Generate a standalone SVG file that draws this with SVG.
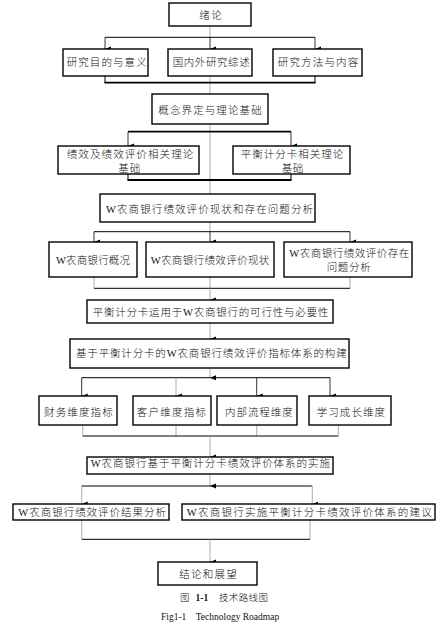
<svg xmlns="http://www.w3.org/2000/svg" width="445" height="627" viewBox="0 0 445 627">
<defs>
<marker id="ah" markerUnits="userSpaceOnUse" markerWidth="6" markerHeight="6" viewBox="0 0 6 6" refX="3" refY="6" orient="auto-start-reverse">
<path d="M0.5,0 L5.5,0 L3,6 Z" fill="#000"/>
</marker>
<style>
.box{fill:#fff;stroke:#000;stroke-width:1.4}
.t{font-family:"Liberation Serif","Noto Sans CJK SC",serif;font-size:10.5px;font-weight:300;fill:#111}
.c{font-family:"Liberation Serif","Noto Sans CJK SC",serif;font-size:9.5px;font-weight:300;fill:#111}
.g{stroke:#999;stroke-width:0.8;fill:none}
.k{stroke:#000;stroke-width:1;fill:none}
.kb{stroke:#000;stroke-width:1.8;fill:none}
.a{stroke:#000;stroke-width:0.8;fill:none;marker-end:url(#ah)}
.ag{stroke:#999;stroke-width:0.8;fill:none;marker-end:url(#ah)}
</style>
</defs>
<rect width="445" height="627" fill="#fff"/>
<g id="connectors">
<line class="g" x1="210" y1="26" x2="210" y2="37"/>
<line class="k" x1="105" y1="37.3" x2="315" y2="37.3"/>
<line class="a" x1="105" y1="37.3" x2="105" y2="49"/>
<line class="a" x1="210" y1="37.3" x2="210" y2="49"/>
<line class="a" x1="315" y1="37.3" x2="315" y2="49"/>
<line class="k" x1="105" y1="76" x2="105" y2="82.7"/>
<line class="k" x1="315" y1="76" x2="315" y2="82.7"/>
<line class="g" x1="210" y1="76" x2="210" y2="94"/>
<line class="kb" x1="104.5" y1="82.7" x2="315.5" y2="82.7"/>
<line class="g" x1="210" y1="124" x2="210" y2="194"/>
<line class="kb" x1="128" y1="131.7" x2="291" y2="131.7"/>
<line class="a" x1="128" y1="131.7" x2="128" y2="146"/>
<line class="a" x1="291" y1="131.7" x2="291" y2="146"/>
<line class="k" x1="128" y1="174" x2="128" y2="180"/>
<line class="k" x1="291" y1="174" x2="291" y2="180"/>
<line class="kb" x1="127.5" y1="180" x2="291.5" y2="180"/>
<line class="g" x1="210" y1="222" x2="210" y2="231.7"/>
<line class="k" x1="94" y1="231.7" x2="350" y2="231.7"/>
<line class="a" x1="94" y1="231.7" x2="94" y2="242"/>
<line class="a" x1="210" y1="231.7" x2="210" y2="242"/>
<line class="a" x1="350" y1="231.7" x2="350" y2="242"/>
<line class="g" x1="94" y1="277" x2="94" y2="288.3"/>
<line class="g" x1="210" y1="277" x2="210" y2="288.3"/>
<line class="g" x1="350" y1="277" x2="350" y2="288.3"/>
<line class="k" x1="94" y1="288.3" x2="350" y2="288.3"/>
<line class="ag" x1="210" y1="288.3" x2="210" y2="300"/>
<line class="ag" x1="210" y1="323" x2="210" y2="339"/>
<line class="ag" x1="210" y1="368" x2="210" y2="377.7"/>
<line class="k" x1="81.7" y1="377.7" x2="330" y2="377.7"/>
<line class="a" x1="81.7" y1="377.7" x2="81.7" y2="396"/>
<line class="ag" x1="176" y1="377.7" x2="176" y2="396"/>
<line class="a" x1="256.7" y1="377.7" x2="256.7" y2="396"/>
<line class="a" x1="330" y1="377.7" x2="330" y2="396"/>
<line class="g" x1="82.7" y1="425" x2="82.7" y2="436"/>
<line class="g" x1="176" y1="425" x2="176" y2="436"/>
<line class="g" x1="256.7" y1="425" x2="256.7" y2="436"/>
<line class="g" x1="338.3" y1="425" x2="338.3" y2="436"/>
<line class="k" x1="82.7" y1="436" x2="338.3" y2="436"/>
<line class="ag" x1="210" y1="436" x2="210" y2="457"/>
<line class="ag" x1="210" y1="474" x2="210" y2="486"/>
<line class="k" x1="81.7" y1="486" x2="312.3" y2="486"/>
<line class="ag" x1="81.7" y1="486" x2="81.7" y2="504"/>
<line class="ag" x1="312.3" y1="486" x2="312.3" y2="504"/>
<line class="g" x1="81.7" y1="520" x2="81.7" y2="539.3"/>
<line class="g" x1="310" y1="520" x2="310" y2="539.3"/>
<line class="k" x1="81.7" y1="539.3" x2="310" y2="539.3"/>
<line class="ag" x1="210" y1="539.3" x2="210" y2="562"/>
</g>
<g id="n1"><rect class="box" x="169" y="3" width="82" height="23"/><text class="t" x="199.3" y="18.8" textLength="22.4" lengthAdjust="spacing">绪论</text></g>
<g id="n2a"><rect class="box" x="63" y="49" width="85" height="27"/><text class="t" x="66.7" y="65.8" textLength="80" lengthAdjust="spacing">研究目的与意义</text></g>
<g id="n2b"><rect class="box" x="168" y="49" width="84" height="27"/><text class="t" x="172.7" y="65.8" textLength="77" lengthAdjust="spacing">国内外研究综述</text></g>
<g id="n2c"><rect class="box" x="273" y="49" width="89" height="27"/><text class="t" x="277.7" y="65.8" textLength="80.6" lengthAdjust="spacing">研究方法与内容</text></g>
<g id="n3"><rect class="box" x="152" y="94" width="116" height="30"/><text class="t" x="158.3" y="113.8" textLength="103.4" lengthAdjust="spacing">概念界定与理论基础</text></g>
<g id="n4a"><rect class="box" x="58" y="146" width="141" height="28"/><text class="t" x="66.7" y="158" textLength="126.6" lengthAdjust="spacing">绩效及绩效评价相关理论</text><text class="t" x="118.3" y="171.5" textLength="22" lengthAdjust="spacing">基础</text></g>
<g id="n4b"><rect class="box" x="233" y="146" width="117" height="28"/><text class="t" x="240.7" y="158" textLength="102.6" lengthAdjust="spacing">平衡计分卡相关理论</text><text class="t" x="281.7" y="171.5" textLength="21.6" lengthAdjust="spacing">基础</text></g>
<g id="n5"><rect class="box" x="100" y="194" width="215" height="28"/><text class="t" x="106" y="212.8" textLength="207" lengthAdjust="spacing">W农商银行绩效评价现状和存在问题分析</text></g>
<g id="n6a"><rect class="box" x="49" y="242" width="88" height="35"/><text class="t" x="56" y="263.8" textLength="74" lengthAdjust="spacing">W农商银行概况</text></g>
<g id="n6b"><rect class="box" x="146" y="242" width="128" height="35"/><text class="t" x="150.7" y="263.8" textLength="118.6" lengthAdjust="spacing">W农商银行绩效评价现状</text></g>
<g id="n6c"><rect class="box" x="284" y="242" width="128" height="35"/><text class="t" x="289.3" y="257" textLength="120" lengthAdjust="spacing">W农商银行绩效评价存在</text><text class="t" x="326.7" y="270.5" textLength="44" lengthAdjust="spacing">问题分析</text></g>
<g id="n7"><rect class="box" x="87" y="300" width="246" height="23"/><text class="t" x="92.7" y="315.5" textLength="235.6" lengthAdjust="spacing">平衡计分卡运用于W农商银行的可行性与必要性</text></g>
<g id="n8"><rect class="box" x="70" y="339" width="279" height="29"/><text class="t" x="76" y="357" textLength="270.7" lengthAdjust="spacing">基于平衡计分卡的W农商银行绩效评价指标体系的构建</text></g>
<g id="n9a"><rect class="box" x="39" y="396" width="78" height="29"/><text class="t" x="44" y="415.5" textLength="68.7" lengthAdjust="spacing">财务维度指标</text></g>
<g id="n9b"><rect class="box" x="133" y="396" width="78" height="29"/><text class="t" x="136.7" y="415.5" textLength="69.3" lengthAdjust="spacing">客户维度指标</text></g>
<g id="n9c"><rect class="box" x="217" y="396" width="80" height="29"/><text class="t" x="225" y="415.5" textLength="67.7" lengthAdjust="spacing">内部流程维度</text></g>
<g id="n9d"><rect class="box" x="309" y="396" width="82" height="29"/><text class="t" x="316.7" y="415.5" textLength="68.3" lengthAdjust="spacing">学习成长维度</text></g>
<g id="n10"><rect class="box" x="87" y="457" width="246" height="17"/><text class="t" x="90.7" y="467.3" textLength="239.3" lengthAdjust="spacing">W农商银行基于平衡计分卡绩效评价体系的实施</text></g>
<g id="n11a"><rect class="box" x="13" y="504" width="156" height="16"/><text class="t" x="18.3" y="515.8" textLength="147.7" lengthAdjust="spacing">W农商银行绩效评价结果分析</text></g>
<g id="n11b"><rect class="box" x="182" y="504" width="253" height="16"/><text class="t" x="186.7" y="515.8" textLength="245" lengthAdjust="spacing">W农商银行实施平衡计分卡绩效评价体系的建议</text></g>
<g id="n12"><rect class="box" x="158" y="562" width="99" height="23"/><text class="t" x="179.3" y="577.6" textLength="57.4" lengthAdjust="spacing">结论和展望</text></g>
<g id="caption">
<text class="c" y="601"><tspan x="180">图</tspan><tspan x="195.5" font-weight="bold">1-1</tspan><tspan x="219" textLength="49" lengthAdjust="spacing">技术路线图</tspan></text>
<text x="161" y="620" style="font-family:'Liberation Serif',serif;font-size:9.5px;fill:#111" xml:space="preserve">Fig1-1    Technology Roadmap</text>
</g>
</svg>
